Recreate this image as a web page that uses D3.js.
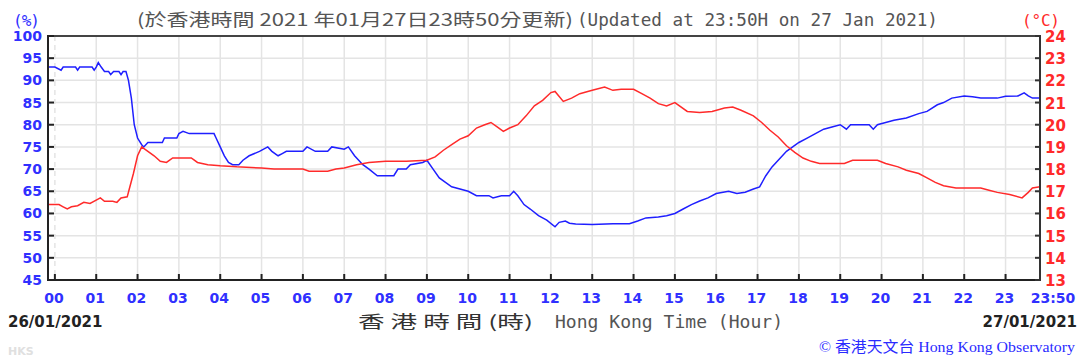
<!DOCTYPE html>
<html><head><meta charset="utf-8">
<script src="https://cdn.jsdelivr.net/npm/d3@7"></script>
<style>html,body{margin:0;padding:0;background:#fff;}svg{display:block;}</style>
</head><body>
<svg id="chart" width="1079" height="360"></svg>
<script>
// ---- data ----
const hourTicks = ["00","01","02","03","04","05","06","07","08","09","10","11","12","13","14","15","16","17","18","19","20","21","22","23"];
const endTickLabel = "23:50";
const humTicks = [45,50,55,60,65,70,75,80,85,90,95,100];
const tempTicks = [13,14,15,16,17,18,19,20,21,22,23,24];

const humTime = [-0.167,0,0.15,0.2,0.5,0.55,0.6,0.9,0.95,1.0,1.05,1.12,1.2,1.3,1.35,1.42,1.55,1.6,1.65,1.72,1.78,1.85,1.92,2.0,2.1,2.15,2.25,2.6,2.65,2.95,3.0,3.1,3.25,3.85,3.9,4.0,4.1,4.2,4.3,4.45,4.55,4.7,4.95,5.15,5.25,5.4,5.5,5.6,6.0,6.1,6.3,6.6,6.7,7.0,7.1,7.25,7.45,7.6,7.8,8.2,8.3,8.5,8.6,8.9,9.0,9.15,9.3,9.45,9.6,9.8,10.0,10.2,10.5,10.6,10.8,11.0,11.1,11.2,11.35,11.5,11.7,11.9,12.1,12.2,12.35,12.45,12.6,13.0,13.5,13.9,14.1,14.3,14.6,14.8,15.0,15.2,15.4,15.6,15.8,16.0,16.3,16.5,16.7,16.9,17.05,17.2,17.35,17.5,17.7,17.85,18.0,18.2,18.4,18.6,18.8,19.0,19.15,19.25,19.7,19.8,19.9,20.1,20.3,20.6,20.9,21.1,21.35,21.5,21.7,22.0,22.2,22.4,22.8,23.0,23.3,23.45,23.55,23.65,23.833];
const humValue = [93,93,92.3,93,93,92.3,93,93,92.3,93,94,93,92,92,91.3,92,92,91.3,92,92,90,86,80,77,75.5,75,76,76,77,77,78,78.5,78,78,77,75,73,71.5,71,71,72,73,74,75,74,73,73.5,74,74,75,74,74,75,74.5,75,73,71,70,68.5,68.5,70,70,71,71.5,72,70,68,67,66,65.5,65,64,64,63.5,64,64,65,64,62,61,59.5,58.5,57,58,58.3,57.8,57.6,57.5,57.7,57.7,58.3,59,59.2,59.5,60,61,62,62.8,63.5,64.5,65,64.5,64.8,65.5,66,68.5,70.5,72,74,75,76,77,78,79,79.5,80,79,80,80,79,80,80.5,81,81.5,82.5,83,84.5,85,86,86.5,86.3,86,86,86.4,86.5,87.2,86.5,86,86];

const tempTime = [-0.167,0.1,0.2,0.3,0.4,0.55,0.7,0.85,1.0,1.1,1.2,1.4,1.5,1.6,1.75,1.8,1.9,2.0,2.1,2.25,2.4,2.55,2.7,2.85,3.0,3.3,3.45,3.7,4.0,4.4,5.0,5.3,5.6,6.0,6.15,6.6,6.8,7.0,7.3,7.6,8.0,8.5,9.0,9.2,9.4,9.6,9.8,10.0,10.2,10.4,10.55,10.7,10.85,11.0,11.2,11.4,11.6,11.8,12.0,12.1,12.3,12.5,12.7,13.0,13.3,13.5,13.7,14.0,14.2,14.4,14.6,14.8,15.0,15.3,15.6,15.9,16.2,16.4,16.6,16.9,17.1,17.3,17.5,17.7,17.9,18.1,18.3,18.5,19.1,19.3,19.9,20.1,20.4,20.6,20.9,21.1,21.3,21.5,21.8,22.4,22.6,22.8,23.1,23.4,23.55,23.65,23.833];
const tempValue = [16.4,16.4,16.3,16.2,16.3,16.35,16.5,16.45,16.6,16.7,16.55,16.55,16.5,16.7,16.75,17.1,17.8,18.6,19.0,18.8,18.6,18.35,18.3,18.5,18.5,18.5,18.3,18.2,18.15,18.1,18.05,18.0,18.0,18.0,17.9,17.9,18.0,18.05,18.2,18.3,18.35,18.35,18.4,18.55,18.85,19.1,19.35,19.5,19.85,20.0,20.1,19.9,19.7,19.85,20.0,20.4,20.85,21.1,21.45,21.5,21.05,21.2,21.4,21.55,21.7,21.55,21.6,21.6,21.4,21.2,20.95,20.85,21.0,20.6,20.55,20.6,20.75,20.8,20.65,20.4,20.1,19.75,19.45,19.05,18.75,18.5,18.35,18.25,18.25,18.4,18.4,18.25,18.1,17.95,17.8,17.6,17.4,17.25,17.15,17.15,17.05,16.95,16.85,16.7,16.95,17.15,17.2];

// ---- chart ----
const svg = d3.select("#chart");
const L = 48, R = 1040, T = 36, B = 280;
const x = d3.scaleLinear().domain([-1/6, 23 + 50/60]).range([L, R]);
const yH = d3.scaleLinear().domain([45, 100]).range([B, T]);
const yT = d3.scaleLinear().domain([13, 24]).range([B, T]);

// grid
const g = svg.append("g");
g.selectAll("line.hg").data(humTicks).enter().append("line")
  .attr("x1", L).attr("x2", R).attr("y1", d => yH(d)).attr("y2", d => yH(d))
  .attr("stroke", "#e4e4e4").attr("stroke-width", 1.5);
g.selectAll("line.vg").data(hourTicks).enter().append("line")
  .attr("x1", (d,i) => x(i)).attr("x2", (d,i) => x(i)).attr("y1", T).attr("y2", B)
  .attr("stroke", "#e4e4e4").attr("stroke-width", 1.5)
  .attr("stroke-dasharray", (d,i) => i === 0 ? "5,4" : null);

// lines
const lineH = d3.line().x((d,i) => x(humTime[i])).y(d => yH(d));
const lineT = d3.line().x((d,i) => x(tempTime[i])).y(d => yT(d));
svg.append("path").attr("d", lineH(humValue)).attr("fill", "none").attr("stroke", "#1f1fff").attr("stroke-width", 1.5);
svg.append("path").attr("d", lineT(tempValue)).attr("fill", "none").attr("stroke", "#ff2a2a").attr("stroke-width", 1.5);

// frame
svg.append("line").attr("x1", L).attr("x2", R).attr("y1", T).attr("y2", T).attr("stroke", "#444").attr("stroke-width", 2);
svg.append("line").attr("x1", L).attr("x2", R).attr("y1", B).attr("y2", B).attr("stroke", "#222").attr("stroke-width", 2);
svg.append("line").attr("x1", L).attr("x2", L).attr("y1", T-1).attr("y2", B+1).attr("stroke", "#222").attr("stroke-width", 2);
svg.append("line").attr("x1", R).attr("x2", R).attr("y1", T-1).attr("y2", B+1).attr("stroke", "#333").attr("stroke-width", 2);

// ticks
svg.selectAll("line.lt").data(humTicks).enter().append("line")
  .attr("x1", L).attr("x2", L+6).attr("y1", d => yH(d)).attr("y2", d => yH(d)).attr("stroke", "#222").attr("stroke-width", 2);
svg.selectAll("line.rt").data(tempTicks).enter().append("line")
  .attr("x1", R-5).attr("x2", R).attr("y1", d => yT(d)).attr("y2", d => yT(d)).attr("stroke", "#333").attr("stroke-width", 2);
svg.selectAll("line.bt").data(hourTicks).enter().append("line")
  .attr("x1", (d,i) => x(i)).attr("x2", (d,i) => x(i)).attr("y1", B-6).attr("y2", B).attr("stroke", "#222").attr("stroke-width", 2);

// tick labels
const tickFont = "'DejaVu Sans', Verdana, sans-serif";
svg.selectAll("text.lh").data(humTicks).enter().append("text")
  .attr("x", 42).attr("y", d => yH(d) + 5).attr("text-anchor", "end")
  .attr("font-family", tickFont).attr("font-weight", "bold").attr("font-size", 14)
  .attr("fill", "#3030ff").text(d => d);
svg.selectAll("text.rt").data(tempTicks).enter().append("text")
  .attr("x", 1045).attr("y", d => yT(d) + 6).attr("text-anchor", "start")
  .attr("font-family", tickFont).attr("font-weight", "bold").attr("font-size", 15)
  .attr("fill", "#ff2a2a").text(d => d);
svg.selectAll("text.bx").data(hourTicks).enter().append("text")
  .attr("x", (d,i) => x(i) - 1).attr("y", 303).attr("text-anchor", "middle")
  .attr("font-family", tickFont).attr("font-weight", "bold").attr("font-size", 14)
  .attr("fill", "#3030ff").text(d => d);
svg.append("text").attr("x", x(23 + 50/60) + 13).attr("y", 303).attr("text-anchor", "middle")
  .attr("font-family", tickFont).attr("font-weight", "bold").attr("font-size", 14)
  .attr("fill", "#3030ff").text(endTickLabel);

// titles
const mono = "'DejaVu Sans Mono', 'Noto Sans CJK TC', monospace";
svg.append("text").attr("x", 137).attr("y", 26).attr("font-family", "'Noto Sans CJK TC', 'DejaVu Sans Mono'")
  .attr("font-size", 17).attr("fill", "#555").attr("textLength", 436).attr("lengthAdjust", "spacingAndGlyphs")
  .text("(於香港時間 2021 年01月27日23時50分更新)");
svg.append("text").attr("x", 577).attr("y", 26).attr("font-family", mono)
  .attr("font-size", 17).attr("fill", "#555").attr("textLength", 361).attr("lengthAdjust", "spacingAndGlyphs")
  .text("(Updated at 23:50H on 27 Jan 2021)");
svg.append("text").attr("x", 13).attr("y", 26).attr("font-family", mono)
  .attr("font-size", 16).attr("fill", "#3030ff").attr("textLength", 27).text("(%)");
svg.append("text").attr("x", 1022).attr("y", 26).attr("font-family", mono)
  .attr("font-size", 16).attr("fill", "#ff2a2a").attr("textLength", 38).text("(°C)");

svg.append("text").attr("x", 8).attr("y", 327).attr("font-family", tickFont).attr("font-weight", "bold")
  .attr("font-size", 15).attr("fill", "#222").text("26/01/2021");
svg.append("text").attr("x", 1077).attr("y", 327).attr("text-anchor", "end").attr("font-family", tickFont).attr("font-weight", "bold")
  .attr("font-size", 15).attr("fill", "#222").text("27/01/2021");

svg.append("text").attr("x", 358).attr("y", 328).attr("font-family", "'Noto Sans CJK TC'")
  .attr("font-size", 17).attr("fill", "#333").attr("textLength", 175).attr("lengthAdjust", "spacingAndGlyphs")
  .text("香 港 時 間 (時)");
svg.append("text").attr("x", 555).attr("y", 328).attr("font-family", mono)
  .attr("font-size", 17).attr("fill", "#555").attr("textLength", 228).attr("lengthAdjust", "spacingAndGlyphs")
  .text("Hong Kong Time (Hour)");

svg.append("text").attr("x", 819).attr("y", 352).attr("font-family", "'Liberation Serif', 'Noto Sans CJK TC', serif")
  .attr("font-size", 15).attr("fill", "#2a2aff").attr("textLength", 256).attr("lengthAdjust", "spacingAndGlyphs")
  .text("© 香港天文台 Hong Kong Observatory");
svg.append("text").attr("x", 8).attr("y", 355).attr("font-family", tickFont).attr("font-weight", "bold")
  .attr("font-size", 11).attr("fill", "#e0e0e0").text("HKS");
</script>
</body></html>
